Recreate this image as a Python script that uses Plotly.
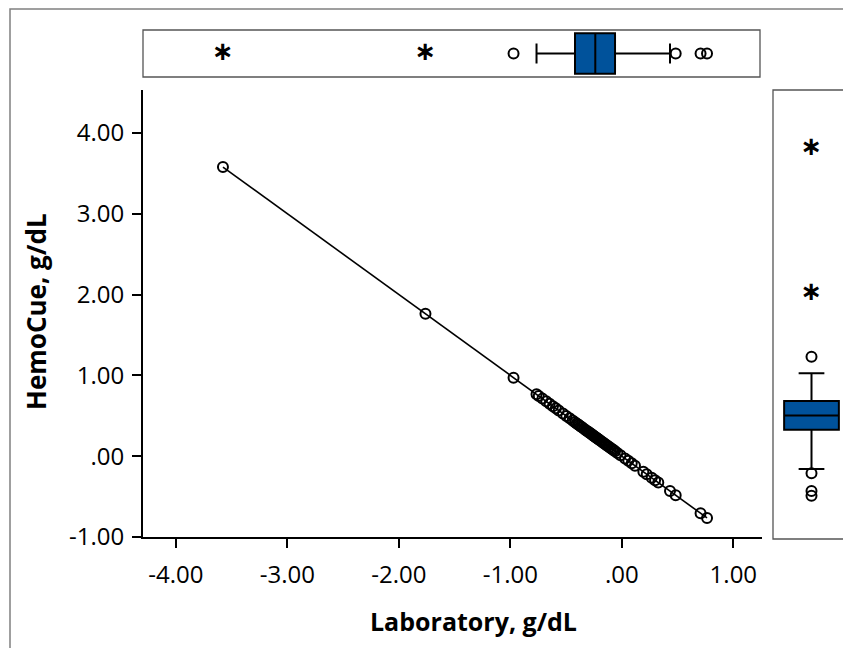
import numpy as np
import plotly.graph_objects as go

W, H = 851, 648          # figure size (= browser window)
OFF = 8                  # the page body adds an 8 px margin around the figure

# ---- data ----
laboratory = [-3.577, -1.761, -0.971, -0.765, -0.745, -0.712, -0.678, -0.648, -0.618, -0.592,
              -0.566, -0.528, -0.498, -0.468, -0.441, -0.420, -0.405, -0.392, -0.381, -0.368,
              -0.357, -0.340, -0.322, -0.309, -0.298, -0.287, -0.276, -0.265, -0.256, -0.247,
              -0.238, -0.228, -0.219, -0.209, -0.197, -0.186, -0.176, -0.163, -0.151, -0.139,
              -0.126, -0.113, -0.098, -0.085, -0.072, -0.061, -0.040, -0.012, 0.029, 0.058,
              0.089, 0.118, 0.193, 0.223, 0.268, 0.298, 0.327, 0.432, 0.483, 0.706, 0.764]
hemocue = [3.577, 1.761, 0.971, 0.765, 0.745, 0.712, 0.678, 0.648, 0.618, 0.592,
           0.566, 0.528, 0.498, 0.468, 0.441, 0.420, 0.405, 0.392, 0.381, 0.368,
           0.357, 0.340, 0.322, 0.309, 0.298, 0.287, 0.276, 0.265, 0.256, 0.247,
           0.238, 0.228, 0.219, 0.209, 0.197, 0.186, 0.176, 0.163, 0.151, 0.139,
           0.126, 0.113, 0.098, 0.085, 0.072, 0.061, 0.040, 0.012, -0.029, -0.058,
           -0.089, -0.118, -0.193, -0.223, -0.268, -0.298, -0.327, -0.432, -0.483, -0.706, -0.764]

x_ticks = [-4, -3, -2, -1, 0, 1]
x_tick_text = ["-4.00", "-3.00", "-2.00", "-1.00", ".00", "1.00"]
y_ticks = [-1, 0, 1, 2, 3, 4]
y_tick_text = ["-1.00", ".00", "1.00", "2.00", "3.00", "4.00"]

x_title = "Laboratory, g/dL"
y_title = "HemoCue, g/dL"

BLUE = "#00529B"
FONT = "Open Sans"
STAR = "\u2217"


def px_x(p):
    return (p - OFF) / W


def px_y(p):
    return 1 - (p - OFF) / H


def box_stats(vals):
    v = np.asarray(vals, dtype=float)
    q1, med, q3 = np.percentile(v, [25, 50, 75])
    iqr = q3 - q1
    lo_in, hi_in = q1 - 1.5 * iqr, q3 + 1.5 * iqr
    lo_ex, hi_ex = q1 - 3 * iqr, q3 + 3 * iqr
    inside = v[(v >= lo_in) & (v <= hi_in)]
    mild = v[((v < lo_in) & (v >= lo_ex)) | ((v > hi_in) & (v <= hi_ex))]
    extreme = v[(v < lo_ex) | (v > hi_ex)]
    return dict(q1=q1, med=med, q3=q3, lf=inside.min(), uf=inside.max(),
                mild=mild.tolist(), extreme=extreme.tolist())


sx = box_stats(laboratory)
sy = box_stats(hemocue)

circle_marker = dict(symbol="circle-open", size=10, color="black", line=dict(width=2))
star_font = dict(size=26, color="black", family="DejaVu Sans", weight="bold")

fig = go.Figure()

# main scatter
fig.add_trace(go.Scatter(
    x=laboratory, y=hemocue, mode="markers", marker=circle_marker,
    xaxis="x", yaxis="y", showlegend=False, hoverinfo="skip"))

# regression line
slope, intercept = np.polyfit(laboratory, hemocue, 1)
lx = np.array([min(laboratory), max(laboratory)])
fig.add_trace(go.Scatter(
    x=lx, y=slope * lx + intercept, mode="lines",
    line=dict(color="black", width=1.6),
    xaxis="x", yaxis="y", showlegend=False, hoverinfo="skip"))

# top box plot (laboratory)
fig.add_trace(go.Box(
    y=[0], q1=[sx["q1"]], median=[sx["med"]], q3=[sx["q3"]],
    lowerfence=[sx["lf"]], upperfence=[sx["uf"]], orientation="h",
    fillcolor=BLUE, line=dict(color="black", width=2), width=0.86, whiskerwidth=0.5,
    boxpoints=False, xaxis="x2", yaxis="y2", showlegend=False, hoverinfo="skip"))
fig.add_trace(go.Scatter(
    x=sx["mild"], y=[0] * len(sx["mild"]), mode="markers", marker=circle_marker,
    xaxis="x2", yaxis="y2", showlegend=False, hoverinfo="skip"))
fig.add_trace(go.Scatter(
    x=sx["extreme"], y=[0] * len(sx["extreme"]), mode="text", text=[STAR] * len(sx["extreme"]),
    textposition="middle center", textfont=star_font,
    xaxis="x2", yaxis="y2", showlegend=False, hoverinfo="skip"))

# right box plot (hemocue)
fig.add_trace(go.Box(
    x=[0], q1=[sy["q1"]], median=[sy["med"]], q3=[sy["q3"]],
    lowerfence=[sy["lf"]], upperfence=[sy["uf"]], orientation="v",
    fillcolor=BLUE, line=dict(color="black", width=2), width=0.75, whiskerwidth=0.47,
    boxpoints=False, xaxis="x3", yaxis="y3", showlegend=False, hoverinfo="skip"))
fig.add_trace(go.Scatter(
    x=[0] * len(sy["mild"]), y=sy["mild"], mode="markers", marker=circle_marker,
    xaxis="x3", yaxis="y3", showlegend=False, hoverinfo="skip"))
fig.add_trace(go.Scatter(
    x=[0] * len(sy["extreme"]), y=sy["extreme"], mode="text", text=[STAR] * len(sy["extreme"]),
    textposition="middle center", textfont=star_font,
    xaxis="x3", yaxis="y3", showlegend=False, hoverinfo="skip"))

axis_common = dict(showline=True, linewidth=2, linecolor="black", ticks="outside", ticklen=9,
                   tickwidth=2, tickcolor="black", showgrid=False, zeroline=False, automargin=False,
                   tickfont=dict(family=FONT, size=24, color="black"))
hidden = dict(visible=False, automargin=False, showgrid=False, zeroline=False)

fig.update_layout(
    template="none",
    width=W, height=H, margin=dict(l=0, r=0, t=0, b=0, pad=0, autoexpand=False),
    paper_bgcolor="white", plot_bgcolor="white",
    font=dict(family=FONT, color="black"),
    xaxis=dict(domain=[px_x(143), px_x(762)], range=[-4.294, 1.257], anchor="y",
               tickmode="array", tickvals=x_ticks, ticktext=x_tick_text,
               ticklabelstandoff=6, **axis_common),
    yaxis=dict(domain=[px_y(537), px_y(90)], range=[-1.0, 4.53], anchor="x",
               tickmode="array", tickvals=y_ticks, ticktext=y_tick_text,
               ticklabelstandoff=3, **axis_common),
    xaxis2=dict(domain=[px_x(143), px_x(762)], range=[-4.294, 1.257], anchor="y2", **hidden),
    yaxis2=dict(domain=[px_y(77), px_y(30)], range=[-0.5, 0.5], anchor="x2", **hidden),
    xaxis3=dict(domain=[px_x(773), px_x(846)], range=[-(811.5 - 773) / 73, (846 - 811.5) / 73],
                anchor="y3", **hidden),
    yaxis3=dict(domain=[px_y(539), px_y(90)], range=[-1.306, 4.306], anchor="x3", **hidden),
    shapes=[
        dict(type="rect", xref="paper", yref="paper", x0=px_x(10), x1=px_x(900), y0=px_y(700), y1=px_y(9),
             line=dict(color="#808080", width=1.5), layer="below"),
        dict(type="rect", xref="paper", yref="paper", x0=px_x(143), x1=px_x(760), y0=px_y(77), y1=px_y(30),
             line=dict(color="#555555", width=1.3)),
        dict(type="rect", xref="paper", yref="paper", x0=px_x(773), x1=px_x(846), y0=px_y(539), y1=px_y(90),
             line=dict(color="#555555", width=1.3)),
    ],
    annotations=[
        dict(text=x_title, xref="paper", yref="paper", x=px_x(473), y=px_y(621), showarrow=False,
             xanchor="center", yanchor="middle", font=dict(family=FONT, size=25, weight="bold", color="black")),
        dict(text=y_title, xref="paper", yref="paper", x=px_x(36), y=px_y(312), showarrow=False, textangle=-90,
             xanchor="center", yanchor="middle", font=dict(family=FONT, size=26, weight="bold", color="black")),
    ],
)

fig.write_html("out.html")
